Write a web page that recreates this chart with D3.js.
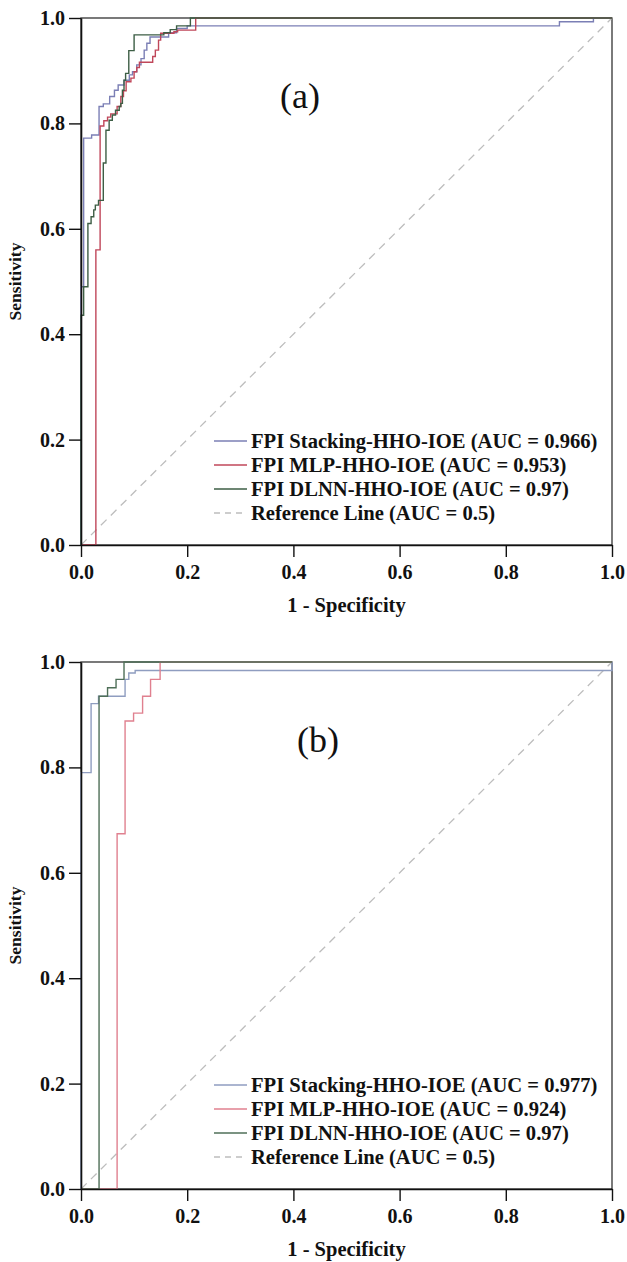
<!DOCTYPE html>
<html>
<head>
<meta charset="utf-8">
<script src="https://cdn.jsdelivr.net/npm/d3@7"></script>
<style>
  body { margin: 0; background: #fff; }
  svg text { font-family: "Liberation Serif", "Times New Roman", serif; }
</style>
</head>
<body>
<div id="chart"></div>
<script>
// ROC coordinates [1 - specificity, sensitivity]
const stackingA = [[0,0],[0,0.49],[0.005,0.49],[0.005,0.772],[0.02,0.772],[0.02,0.778],[0.034,0.778],[0.034,0.832],[0.042,0.832],[0.042,0.837],[0.054,0.837],[0.054,0.851],[0.063,0.851],[0.063,0.863],[0.07,0.863],[0.07,0.873],[0.081,0.873],[0.081,0.882],[0.091,0.882],[0.091,0.892],[0.097,0.892],[0.097,0.898],[0.105,0.898],[0.105,0.911],[0.113,0.911],[0.113,0.923],[0.119,0.923],[0.119,0.939],[0.124,0.939],[0.124,0.952],[0.13,0.952],[0.13,0.964],[0.165,0.964],[0.165,0.972],[0.18,0.972],[0.18,0.98],[0.2,0.98],[0.2,0.985],[0.901,0.985],[0.901,0.993],[0.965,0.993],[0.965,1],[1,1]];
const mlpA = [[0,0],[0.028,0],[0.028,0.56],[0.036,0.56],[0.036,0.795],[0.043,0.795],[0.043,0.805],[0.05,0.805],[0.05,0.812],[0.056,0.812],[0.056,0.818],[0.068,0.818],[0.068,0.832],[0.075,0.832],[0.075,0.851],[0.08,0.851],[0.08,0.862],[0.085,0.862],[0.085,0.879],[0.094,0.879],[0.094,0.886],[0.1,0.886],[0.1,0.898],[0.105,0.898],[0.105,0.906],[0.11,0.906],[0.11,0.916],[0.135,0.916],[0.135,0.927],[0.14,0.927],[0.14,0.939],[0.146,0.939],[0.146,0.958],[0.15,0.958],[0.15,0.971],[0.175,0.971],[0.175,0.974],[0.182,0.974],[0.182,0.977],[0.216,0.977],[0.216,1],[1,1]];
const dlnnA = [[0,0],[0,0.436],[0.005,0.436],[0.005,0.49],[0.013,0.49],[0.013,0.61],[0.019,0.61],[0.019,0.623],[0.024,0.623],[0.024,0.636],[0.027,0.636],[0.027,0.645],[0.033,0.645],[0.033,0.654],[0.042,0.654],[0.042,0.725],[0.047,0.725],[0.047,0.787],[0.053,0.787],[0.053,0.806],[0.059,0.806],[0.059,0.816],[0.065,0.816],[0.065,0.825],[0.072,0.825],[0.072,0.832],[0.075,0.832],[0.075,0.838],[0.078,0.838],[0.078,0.863],[0.081,0.863],[0.081,0.882],[0.084,0.882],[0.084,0.895],[0.09,0.895],[0.09,0.938],[0.1,0.938],[0.1,0.968],[0.156,0.968],[0.156,0.972],[0.168,0.972],[0.168,0.978],[0.18,0.978],[0.18,0.985],[0.206,0.985],[0.206,1],[1,1]];

const stackingB = [[0,0],[0,0.79],[0.019,0.79],[0.019,0.921],[0.033,0.921],[0.033,0.935],[0.083,0.935],[0.083,0.967],[0.09,0.967],[0.09,0.979],[0.102,0.979],[0.102,0.984],[1,0.984],[1,1]];
const mlpB = [[0,0],[0.068,0],[0.068,0.674],[0.083,0.674],[0.083,0.888],[0.099,0.888],[0.099,0.903],[0.116,0.903],[0.116,0.935],[0.131,0.935],[0.131,0.967],[0.149,0.967],[0.149,1],[1,1]];
const dlnnB = [[0,0],[0.034,0],[0.034,0.935],[0.05,0.935],[0.05,0.951],[0.066,0.951],[0.066,0.967],[0.081,0.967],[0.081,1],[1,1]];

const refLine = [[0,0],[1,1]];

const legendA = ["FPI Stacking-HHO-IOE (AUC = 0.966)", "FPI MLP-HHO-IOE (AUC = 0.953)", "FPI DLNN-HHO-IOE (AUC = 0.97)", "Reference Line (AUC = 0.5)"];
const legendB = ["FPI Stacking-HHO-IOE (AUC = 0.977)", "FPI MLP-HHO-IOE (AUC = 0.924)", "FPI DLNN-HHO-IOE (AUC = 0.97)", "Reference Line (AUC = 0.5)"];

const tickValues = [0, 0.2, 0.4, 0.6, 0.8, 1.0];

const width = 627, height = 1262;
const svg = d3.select("#chart").append("svg")
  .attr("width", width)
  .attr("height", height);

const x = d3.scaleLinear().domain([0, 1]).range([81, 612]);

function drawPanel(top, bottom, curves, colors, labels, panelLabel, labelX) {
  const y = d3.scaleLinear().domain([0, 1]).range([bottom, top]);
  const g = svg.append("g");

  // frame
  g.append("rect")
    .attr("x", x(0)).attr("y", y(1))
    .attr("width", x(1) - x(0)).attr("height", y(0) - y(1))
    .attr("fill", "none").attr("stroke", "#222").attr("stroke-width", 1.2);

  const line = d3.line().x(d => x(d[0])).y(d => y(d[1]));

  g.append("path")
    .attr("d", line(refLine))
    .attr("fill", "none")
    .attr("stroke", "#bdbdbd")
    .attr("stroke-width", 1.3)
    .attr("stroke-dasharray", "8,6");

  curves.forEach((c, i) => {
    g.append("path")
      .attr("d", line(c))
      .attr("fill", "none")
      .attr("stroke", colors[i])
      .attr("stroke-width", 1.4);
  });

  const xAxis = g.append("g")
    .attr("transform", `translate(0,${bottom})`)
    .call(d3.axisBottom(x).tickValues(tickValues).tickFormat(d3.format(".1f")).tickSize(12).tickSizeOuter(0).tickPadding(8));
  const yAxis = g.append("g")
    .attr("transform", `translate(${x(0)},0)`)
    .call(d3.axisLeft(y).tickValues(tickValues).tickFormat(d3.format(".1f")).tickSize(12).tickSizeOuter(0).tickPadding(4));

  [xAxis, yAxis].forEach(a => {
    a.select(".domain").attr("stroke", "#111").attr("stroke-width", 1.6);
    a.selectAll(".tick line").attr("stroke", "#111").attr("stroke-width", 1.4);
    a.selectAll(".tick text")
      .attr("fill", "#111")
      .style("font-family", '"Liberation Serif", serif')
      .style("font-size", "20px")
      .style("font-weight", "bold");
  });

  g.append("text")
    .attr("x", (x(0) + x(1)) / 2)
    .attr("y", bottom + 67)
    .attr("text-anchor", "middle")
    .style("font-size", "20.5px")
    .style("font-weight", "bold")
    .attr("fill", "#111")
    .text("1 - Specificity");

  g.append("text")
    .attr("transform", `translate(21,${(top + bottom) / 2}) rotate(-90)`)
    .attr("text-anchor", "middle")
    .style("font-size", "17.5px")
    .style("font-weight", "bold")
    .attr("fill", "#111")
    .text("Sensitivity");

  g.append("text")
    .attr("x", labelX)
    .attr("y", top + 77)
    .attr("dy", "0.35em")
    .attr("text-anchor", "middle")
    .style("font-size", "36px")
    .attr("fill", "#111")
    .text(panelLabel);

  // legend
  const legendColors = colors.concat(["#bdbdbd"]);
  labels.forEach((lab, i) => {
    const ly = bottom - 104 + i * 24;
    g.append("line")
      .attr("x1", 214).attr("x2", 247)
      .attr("y1", ly).attr("y2", ly)
      .attr("stroke", legendColors[i])
      .attr("stroke-width", 1.4)
      .attr("stroke-dasharray", i === 3 ? "6,5" : null);
    g.append("text")
      .attr("x", 251).attr("y", ly)
      .attr("dy", "0.35em")
      .style("font-size", "20.6px")
      .style("font-weight", "bold")
      .attr("fill", "#111")
      .text(lab);
  });
}

drawPanel(18, 545, [stackingA, mlpA, dlnnA], ["#7b7fb5", "#c0475a", "#3d5e45"], legendA, "(a)", 300);
drawPanel(662, 1189, [stackingB, mlpB, dlnnB], ["#8f9dc0", "#e0808f", "#4f6f58"], legendB, "(b)", 318);
</script>
</body>
</html>
